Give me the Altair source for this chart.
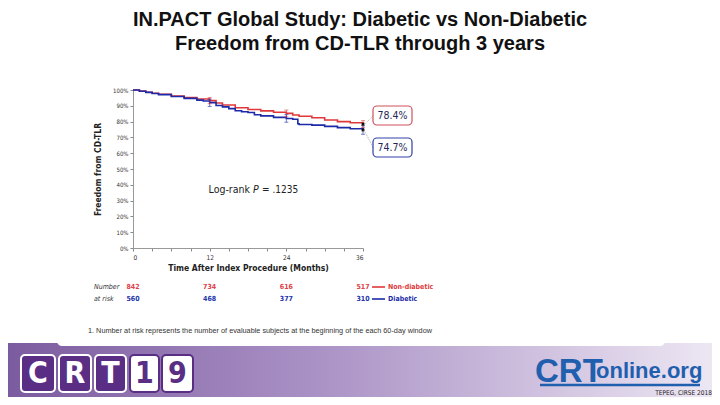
import altair as alt
import pandas as pd

# ---------------- data ----------------
groups = ["Non-diabetic", "Diabetic"]
colors = ["#e0383a", "#1c2aa8"]

months_nd = [0, 1, 2, 3, 4, 6, 8, 10, 12, 13, 14, 16, 18, 20, 22, 24, 25, 26, 28, 30, 32, 34, 36]
surv_nd = [100, 99.3, 98.6, 97.9, 97.3, 96.2, 95.3, 94.3, 93.3, 91.8, 90.5, 88.8, 87.7, 86.8,
           85.9, 85.2, 84.2, 83.4, 82.4, 81.0, 80.0, 79.3, 78.4]

months_d = [0, 1, 2, 3, 4, 6, 8, 10, 11, 12, 13, 14, 15, 16, 17, 18, 19, 20, 22, 24, 25, 25.8,
            26, 28, 30, 32, 34, 36]
surv_d = [100, 99.2, 98.5, 97.8, 97.1, 95.9, 94.7, 93.6, 93.0, 92.0, 90.2, 89.3, 88.2, 86.9,
          86.2, 85.8, 84.3, 83.6, 82.7, 82.0, 81.5, 78.6, 78.2, 77.8, 77.0, 76.2, 75.5, 74.7]

ci_months = [12, 24, 36]
ci_nd_lo = [91.3, 83.0, 76.2]
ci_nd_hi = [95.2, 87.3, 80.6]
ci_d_lo = [89.6, 79.6, 72.0]
ci_d_hi = [94.2, 84.4, 77.4]

risk_months = [0, 12, 24, 36]
risk_nd = [842, 734, 616, 517]
risk_d = [560, 468, 377, 310]

title_lines = ["IN.PACT Global Study: Diabetic vs Non-Diabetic",
               "Freedom from CD-TLR through 3 years"]
footnote = ("1.   Number at risk represents the number of evaluable subjects at the "
            "beginning of the each 60-day window")

# ---------------- layout helpers (page px -> plot px) ----------------
OX, OY = 133, 90
W, H = 230, 158


def px(x):
    return x - OX


def py(y):
    return y - OY


NARROW = "DejaVu Sans Condensed, Liberation Sans, sans-serif"
SANS = "Liberation Sans, Arial, sans-serif"

curves = pd.DataFrame(
    [{"month": m, "surv": s, "group": groups[0]} for m, s in zip(months_nd, surv_nd)]
    + [{"month": m, "surv": s, "group": groups[1]} for m, s in zip(months_d, surv_d)]
)
ci = pd.DataFrame(
    [{"month": m, "lo": a, "hi": b, "group": groups[0]} for m, a, b in zip(ci_months, ci_nd_lo, ci_nd_hi)]
    + [{"month": m, "lo": a, "hi": b, "group": groups[1]} for m, a, b in zip(ci_months, ci_d_lo, ci_d_hi)]
)
ends = pd.DataFrame({"month": [36, 36], "surv": [surv_nd[-1], surv_d[-1]]})
risk_nd_df = pd.DataFrame({"month": risk_months, "n": risk_nd})
risk_d_df = pd.DataFrame({"month": risk_months, "n": risk_d})

one = pd.DataFrame({"k": [0]})

xscale = alt.Scale(domain=[0, 36], nice=False)
yscale = alt.Scale(domain=[0, 100], nice=False)
cscale = alt.Scale(domain=groups, range=colors)

xaxis = alt.Axis(values=list(range(0, 37, 3)),
                 labelExpr="datum.value % 12 == 0 ? datum.label : ''",
                 tickSize=3, tickColor="#888", domainColor="#999",
                 labelFontSize=6.5, labelColor="#333", labelFont=NARROW, labelPadding=3,
                 labelOverlap=False,
                 title="Time After Index Procedure (Months)", titleFont=NARROW,
                 titleFontSize=8.5, titleFontWeight="bold", titleColor="#222",
                 titlePadding=3, grid=False)
yaxis = alt.Axis(values=list(range(0, 101, 10)), labelExpr="datum.value + '%'",
                 tickSize=3, tickColor="#888", domainColor="#999",
                 labelFontSize=6, labelColor="#333", labelFont=NARROW, labelPadding=2,
                 labelOverlap=False,
                 title="Freedom from CD-TLR", titleFont=NARROW, titleFontSize=8.5,
                 titleFontWeight="bold", titleColor="#222", titlePadding=10, grid=False)


def X(field):
    return alt.X(field, type="quantitative", scale=xscale, axis=xaxis)


def Y(field):
    return alt.Y(field, type="quantitative", scale=yscale, axis=yaxis)


def C():
    return alt.Color("group:N", scale=cscale, legend=None)


layers = []

# footer band
layers.append(alt.Chart(one).mark_rect(
    color=alt.LinearGradient(gradient="linear", x1=0, x2=1, y1=0, y2=0,
                             stops=[alt.GradientStop(color="#7a5a9e", offset=0),
                                    alt.GradientStop(color="#ab93c6", offset=0.45),
                                    alt.GradientStop(color="#eee8f4", offset=1)])
).encode(x=alt.value(px(0)), x2=alt.value(px(720)), y=alt.value(py(343)), y2=alt.value(py(405))))
layers.append(alt.Chart(one).mark_rect(color="white", cornerRadius=5).encode(
    x=alt.value(px(57)), x2=alt.value(px(665)), y=alt.value(py(330)), y2=alt.value(py(346))))

# CRT19 logo
boxes = [(21, 55, "C", True), (59, 91, "R", True), (95, 126, "T", True),
         (130, 159, "1", False), (162, 193, "9", False)]
for x0, x1, ch, dark in boxes:
    layers.append(alt.Chart(one).mark_rect(
        color="#5b2e86" if dark else "white", cornerRadius=4,
        stroke="white" if dark else "#5b2e86", strokeWidth=2).encode(
        x=alt.value(px(x0)), x2=alt.value(px(x1)), y=alt.value(py(355)), y2=alt.value(py(392))))
    layers.append(alt.Chart(one).mark_text(
        text=ch, font="DejaVu Sans Condensed, sans-serif", fontWeight="bold", fontSize=30,
        color="white" if dark else "#5b2e86", align="center", baseline="middle").encode(
        x=alt.value(px((x0 + x1) / 2)), y=alt.value(py(374))))

# CRTonline.org logo
layers.append(alt.Chart(one).mark_text(
    text="CRT", font=SANS, fontWeight="bold", fontSize=33, color="#1f5fae",
    align="left", baseline="alphabetic").encode(x=alt.value(px(535)), y=alt.value(py(382))))
layers.append(alt.Chart(one).mark_text(
    text="online.org", font=SANS, fontWeight="bold", fontSize=22, color="#1f5fae",
    align="left", baseline="alphabetic").encode(x=alt.value(px(596)), y=alt.value(py(378))))
layers.append(alt.Chart(one).mark_rule(color="#1f5fae", strokeWidth=2.5).encode(
    x=alt.value(px(540)), x2=alt.value(px(700)), y=alt.value(py(385)), y2=alt.value(py(385))))
layers.append(alt.Chart(one).mark_text(
    text="TEPEG, CIRSE 2018", font=NARROW, fontSize=6.5, color="#222",
    align="right", baseline="middle").encode(x=alt.value(px(712)), y=alt.value(py(393))))

# title
for i, t in enumerate(title_lines):
    layers.append(alt.Chart(one).mark_text(
        text=t, font=SANS, fontWeight="bold", fontSize=20, color="#111",
        align="center", baseline="middle").encode(x=alt.value(px(360)), y=alt.value(py(20 + 24 * i))))

# footnote
layers.append(alt.Chart(one).mark_text(
    text=footnote, font=SANS, fontSize=7.3, color="#333", align="left", baseline="middle"
).encode(x=alt.value(px(88)), y=alt.value(py(331))))

# KM curves
layers.append(alt.Chart(curves).mark_line(interpolate="step-after", strokeWidth=1.6).encode(
    x=X("month"), y=Y("surv"), color=C(),
    order=alt.Order("month:Q"), detail="group:N"))

# confidence bars
layers.append(alt.Chart(ci).mark_rule(strokeWidth=1, opacity=0.6).encode(
    x=X("month"), y=Y("lo"), y2="hi:Q", color=C()))
layers.append(alt.Chart(ci).mark_tick(orient="horizontal", size=4, thickness=1, opacity=0.6).encode(
    x=X("month"), y=Y("lo"), color=C()))
layers.append(alt.Chart(ci).mark_tick(orient="horizontal", size=4, thickness=1, opacity=0.6).encode(
    x=X("month"), y=Y("hi"), color=C()))
layers.append(alt.Chart(ends).mark_square(size=8, color="#111", opacity=1).encode(
    x=X("month"), y=Y("surv")))

# log-rank annotation
layers.append(alt.Chart(one).mark_text(text="Log-rank", font=NARROW, fontSize=10.5, color="#222",
                                       align="right", baseline="middle").encode(
    x=alt.value(px(250)), y=alt.value(py(190))))
layers.append(alt.Chart(one).mark_text(text="P", font=NARROW, fontSize=10.5, fontStyle="italic",
                                       color="#222", align="left", baseline="middle").encode(
    x=alt.value(px(253)), y=alt.value(py(190))))
layers.append(alt.Chart(one).mark_text(text="= .1235", font=NARROW, fontSize=10, color="#222",
                                       align="left", baseline="middle").encode(
    x=alt.value(px(262)), y=alt.value(py(190))))

# end-value callouts
layers.append(alt.Chart(one).mark_rule(color="#999", strokeDash=[1, 1], strokeWidth=0.8).encode(
    x=alt.value(px(364)), y=alt.value(py(125)), x2=alt.value(px(373)), y2=alt.value(py(116))))
layers.append(alt.Chart(one).mark_rule(color="#999", strokeDash=[1, 1], strokeWidth=0.8).encode(
    x=alt.value(px(364)), y=alt.value(py(130)), x2=alt.value(px(373)), y2=alt.value(py(147))))
for (y0, y1), val, col in [((106, 125), surv_nd[-1], "#d0505a"), ((138, 157), surv_d[-1], "#3040a8")]:
    layers.append(alt.Chart(one).mark_rect(fill="white", stroke=col, strokeWidth=1.2,
                                           cornerRadius=4).encode(
        x=alt.value(px(373)), x2=alt.value(px(412)), y=alt.value(py(y0)), y2=alt.value(py(y1))))
    layers.append(alt.Chart(one).mark_text(text=f"{val}%", font=NARROW, fontSize=10.5,
                                           color="#1f2a5a", align="center", baseline="middle").encode(
        x=alt.value(px(392.5)), y=alt.value(py((y0 + y1) / 2))))

# numbers at risk
layers.append(alt.Chart(risk_nd_df).mark_text(font=NARROW, fontSize=7, fontWeight="bold",
                                              color="#e04048", baseline="middle").encode(
    x=X("month"), y=alt.value(py(287)), text="n:Q"))
layers.append(alt.Chart(risk_d_df).mark_text(font=NARROW, fontSize=7, fontWeight="bold",
                                             color="#2233aa", baseline="middle").encode(
    x=X("month"), y=alt.value(py(299)), text="n:Q"))
layers.append(alt.Chart(one).mark_text(text="Number", font=NARROW, fontSize=7, fontStyle="italic",
                                       color="#333", align="left", baseline="middle").encode(
    x=alt.value(px(94)), y=alt.value(py(287))))
layers.append(alt.Chart(one).mark_text(text="at risk", font=NARROW, fontSize=7, fontStyle="italic",
                                       color="#333", align="left", baseline="middle").encode(
    x=alt.value(px(94)), y=alt.value(py(299))))
for yy, g, c in [(287, groups[0], colors[0]), (299, groups[1], colors[1])]:
    layers.append(alt.Chart(one).mark_rule(color=c, strokeWidth=1.6).encode(
        x=alt.value(px(372)), x2=alt.value(px(385)), y=alt.value(py(yy)), y2=alt.value(py(yy))))
    layers.append(alt.Chart(one).mark_text(text=g, font=NARROW, fontSize=7, fontWeight="bold",
                                           color=c, align="left", baseline="middle").encode(
        x=alt.value(px(388)), y=alt.value(py(yy))))

chart = alt.layer(*layers).properties(
    width=W, height=H,
    autosize=alt.AutoSizeParams(type="none"),
    padding={"left": OX - 8, "top": OY - 8, "right": 712 - OX - W, "bottom": 397 - OY - H},
    background="white",
).configure_view(stroke=None)

chart.save("out.html", embed_options={"renderer": "svg", "actions": False})
